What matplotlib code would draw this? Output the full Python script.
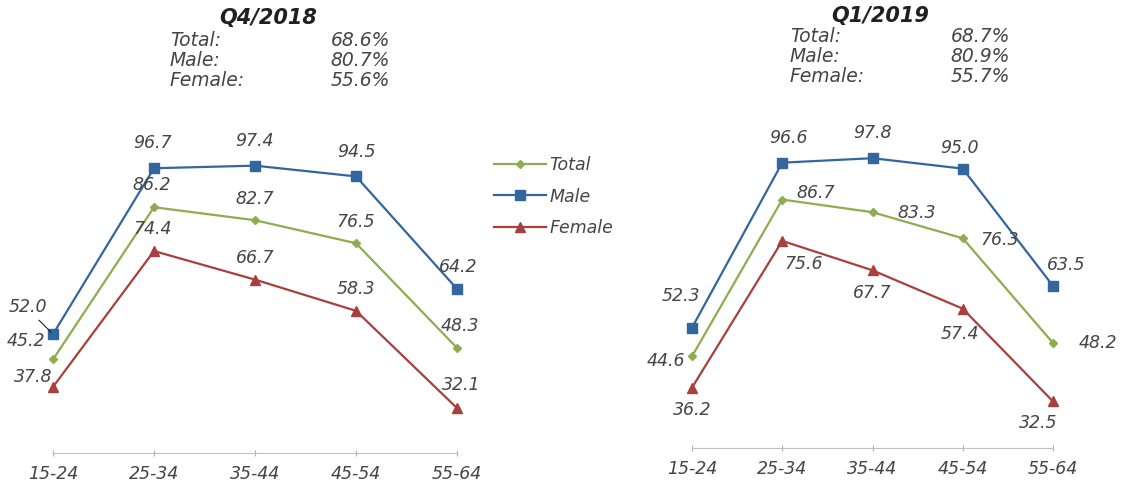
import matplotlib.pyplot as plt

plt.rcParams['font.family'] = ['DejaVu Sans']

ages = ['15-24', '25-34', '35-44', '45-54', '55-64']

# Q4/2018
q4_total = [45.2, 86.2, 82.7, 76.5, 48.3]
q4_male = [52.0, 96.7, 97.4, 94.5, 64.2]
q4_female = [37.8, 74.4, 66.7, 58.3, 32.1]
q4_summary = ['68.6%', '80.7%', '55.6%']

# Q1/2019
q1_total = [44.6, 86.7, 83.3, 76.3, 48.2]
q1_male = [52.3, 96.6, 97.8, 95.0, 63.5]
q1_female = [36.2, 75.6, 67.7, 57.4, 32.5]
q1_summary = ['68.7%', '80.9%', '55.7%']

summary_names = ['Total:', 'Male:', 'Female:']

C_TOTAL = '#8fac4f'
C_MALE = '#33669e'
C_FEMALE = '#a8403d'
TXT = '#454545'

# label offsets in pixels (dx, dy) for each point
q4_off = {
    'total': [(-27, 18), (-2, 22), (0, 21), (0, 21), (3, 22)],
    'male': [(-25, 27), (-2, 25), (-1, 25), (0, 24), (1, 22)],
    'female': [(-20, 10), (-1, 22), (0, 22), (0, 22), (4, 23)],
}
q1_off = {
    'total': [(-26, -5), (33, 7), (44, -1), (37, -2), (45, 0)],
    'male': [(-11, 32), (6, 25), (0, 25), (-3, 21), (13, 21)],
    'female': [(0, -22), (21, -23), (0, -23), (-3, -25), (-15, -22)],
}


def draw_panel(ax, total, male, female, offs, leader=False):
    x = range(len(ages))
    ax.plot(x, total, color=C_TOTAL, lw=1.6, marker='D', ms=4.5, label='Total', clip_on=False)
    ax.plot(x, male, color=C_MALE, lw=1.6, marker='s', ms=7, label='Male', clip_on=False)
    ax.plot(x, female, color=C_FEMALE, lw=1.6, marker='^', ms=7, label='Female', clip_on=False)

    for key, vals in (('total', total), ('male', male), ('female', female)):
        for i, v in enumerate(vals):
            dx, dy = offs[key][i]
            ax.annotate(f'{v:.1f}', (i, v), xytext=(dx, dy), textcoords='offset pixels',
                        ha='center', va='center', fontsize=12.5, style='italic', color=TXT)
    if leader:
        ax.annotate('', (0, male[0]), xytext=(-16, 16), textcoords='offset pixels',
                    arrowprops=dict(arrowstyle='-', color='#202020', lw=0.8))

    ax.set_xlim(0, 4)
    ax.set_ylim(20, 100)
    ax.set_xticks(list(x))
    ax.set_xticklabels(ages, style='italic', fontsize=12.5, color=TXT)
    ax.set_yticks([])
    for s in ('top', 'right', 'left'):
        ax.spines[s].set_visible(False)
    ax.spines['bottom'].set_color('#c0c0c0')
    ax.tick_params(axis='x', direction='inout', length=5, color='#b0b0b0', pad=6)
    ax.patch.set_alpha(0)


def draw_header(fig, cx, ty, lx, rx, y0, title, summary):
    fig.text(cx / 1121, 1 - ty / 483, title, ha='center', va='center',
             fontsize=15, weight='bold', style='italic', color='#202020')
    for j, (name, val) in enumerate(zip(summary_names, summary)):
        y = 1 - (y0 + 20 * j) / 483
        fig.text(lx / 1121, y, name, ha='left', va='center', fontsize=13.5,
                 style='italic', color=TXT)
        fig.text(rx / 1121, y, val, ha='right', va='center', fontsize=13.5,
                 style='italic', color=TXT)


fig = plt.figure(figsize=(11.21, 4.83), dpi=100)
ax1 = fig.add_axes([53 / 1121, 30 / 483, 404 / 1121, 297 / 483])
ax2 = fig.add_axes([692 / 1121, 35 / 483, 361 / 1121, 298 / 483])

draw_panel(ax1, q4_total, q4_male, q4_female, q4_off, leader=True)
draw_panel(ax2, q1_total, q1_male, q1_female, q1_off)

draw_header(fig, 268, 18, 170, 390, 40, 'Q4/2018', q4_summary)
draw_header(fig, 880, 16, 790, 1010, 36, 'Q1/2019', q1_summary)

ax1.legend(loc='upper left', bbox_to_anchor=(478 / 1121, 1 - 140 / 483),
           bbox_transform=fig.transFigure, frameon=False, handlelength=3.0,
           handletextpad=0.2, labelspacing=0.8, prop={'style': 'italic', 'size': 12.5},
           labelcolor=TXT)

fig.savefig('out.png', dpi=100)
